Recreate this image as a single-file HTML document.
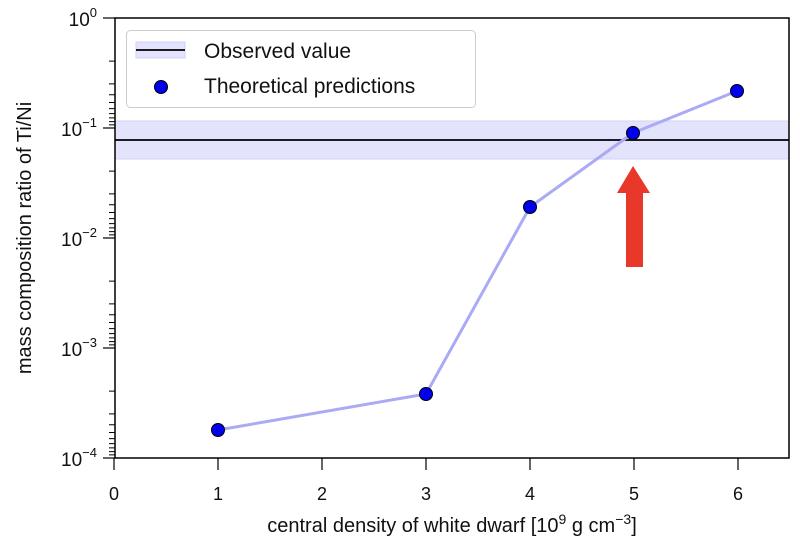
<!DOCTYPE html>
<html><head><meta charset="utf-8"><style>
html,body{margin:0;padding:0;background:#fff;}
svg{display:block;font-family:"Liberation Sans","Noto Sans CJK JP",sans-serif;}
</style></head><body>
<svg width="800" height="551" viewBox="0 0 800 551" xmlns="http://www.w3.org/2000/svg">
<rect x="0" y="0" width="800" height="551" fill="#fff"/>
<rect x="115" y="121" width="674" height="38" fill="#e3e3fb" stroke="#d0d0f8" stroke-width="1"/>
<line x1="115" y1="140" x2="789" y2="140" stroke="#000" stroke-width="1.8"/>
<polyline points="218,430 426,394 530,207 633,133 737,91" fill="none" stroke="#aaaaf5" stroke-width="3"/>
<g fill="#0000ee" stroke="#000" stroke-width="1">
<circle cx="218" cy="430" r="6.5"/><circle cx="426" cy="394" r="6.5"/><circle cx="530" cy="207" r="6.5"/><circle cx="633" cy="133" r="6.5"/><circle cx="737" cy="91" r="6.5"/>
</g>
<polygon points="633,166 650,193 643,193 643,267 626,267 626,193 617,193" fill="#e8382a"/>
<rect x="115" y="18" width="674" height="440" fill="none" stroke="#000" stroke-width="1.5"/>
<g stroke="#000" stroke-width="1.2">
<line x1="103" y1="18" x2="115" y2="18"/><line x1="103" y1="128" x2="115" y2="128"/><line x1="103" y1="238" x2="115" y2="238"/><line x1="103" y1="348" x2="115" y2="348"/><line x1="103" y1="458" x2="115" y2="458"/>
</g>
<g stroke="#000" stroke-width="1">
<path d="
M109,124.9H115 M109,121.6H115 M109,117.9H115 M109,113.6H115 M109,108.6H115 M109,102.5H115 M109,94.7H115 M109,83.9H115 M109,61.1H115
M109,234.9H115 M109,231.6H115 M109,227.9H115 M109,223.6H115 M109,218.6H115 M109,212.5H115 M109,204.7H115 M109,193.9H115 M109,171.1H115
M109,344.9H115 M109,341.6H115 M109,337.9H115 M109,333.6H115 M109,328.6H115 M109,322.5H115 M109,314.7H115 M109,303.9H115 M109,281.1H115
M109,454.9H115 M109,451.6H115 M109,447.9H115 M109,443.6H115 M109,438.6H115 M109,432.5H115 M109,424.7H115 M109,413.9H115 M109,391.1H115"/>
</g>
<g stroke="#000" stroke-width="1.2">
<line x1="114" y1="458" x2="114" y2="470"/><line x1="218" y1="458" x2="218" y2="470"/><line x1="322" y1="458" x2="322" y2="470"/><line x1="426" y1="458" x2="426" y2="470"/><line x1="530" y1="458" x2="530" y2="470"/><line x1="634" y1="458" x2="634" y2="470"/><line x1="738" y1="458" x2="738" y2="470"/>
</g>
<g font-size="18" text-anchor="middle" fill="#111">
<text x="114" y="500">0</text><text x="218" y="500">1</text><text x="322" y="500">2</text><text x="426" y="500">3</text><text x="530" y="500">4</text><text x="634" y="500">5</text><text x="738" y="500">6</text>
</g>
<g font-size="19" text-anchor="end" fill="#111">
<text x="97" y="26">10<tspan font-size="13" dy="-9">0</tspan></text>
<text x="97" y="136">10<tspan font-size="13" dy="-9">−1</tspan></text>
<text x="97" y="246">10<tspan font-size="13" dy="-9">−2</tspan></text>
<text x="97" y="356">10<tspan font-size="13" dy="-9">−3</tspan></text>
<text x="97" y="466">10<tspan font-size="13" dy="-9">−4</tspan></text>
</g>
<text x="452" y="532" font-size="20" text-anchor="middle" fill="#111">central density of white dwarf [10<tspan font-size="14" dy="-8">9</tspan><tspan dy="8"> g cm</tspan><tspan font-size="14" dy="-8">−3</tspan><tspan dy="8">]</tspan></text>
<text transform="translate(31,238) rotate(-90)" font-size="20" text-anchor="middle" fill="#111">mass composition ratio of Ti/Ni</text>
<rect x="126.5" y="30.5" width="349" height="77" rx="4" fill="#fff" fill-opacity="0.85" stroke="#ccc" stroke-width="1"/>
<rect x="136" y="42" width="49" height="16" fill="#e3e3fb" stroke="#d0d0f8"/>
<line x1="136" y1="50" x2="185" y2="50" stroke="#000" stroke-width="1.8"/>
<circle cx="161" cy="87" r="6.5" fill="#0000ee" stroke="#000" stroke-width="1"/>
<text x="204" y="58" font-size="21" fill="#111">Observed value</text>
<text x="204" y="93" font-size="21" fill="#111">Theoretical predictions</text>
</svg>
</body></html>
